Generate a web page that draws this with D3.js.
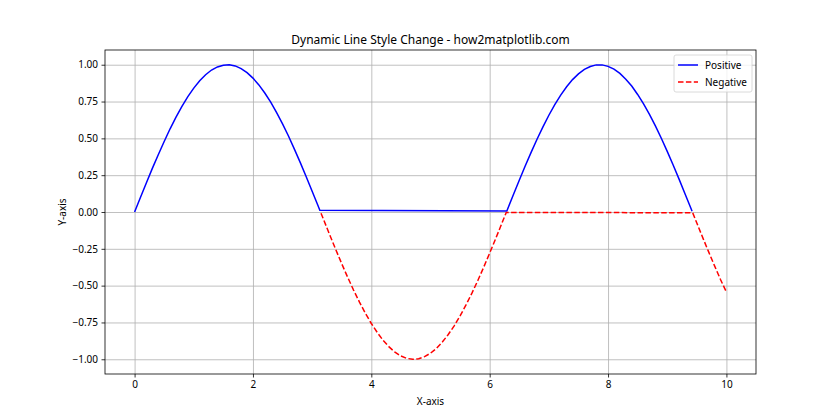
<!DOCTYPE html>
<html>
<head>
<meta charset="utf-8">
<script src="https://cdn.jsdelivr.net/npm/d3@7"></script>
<style>
  body { margin: 0; background: #fff; }
  svg text { font-family: "Noto Sans", "Liberation Sans", sans-serif; fill: #000; }
  .grid line { stroke: #b0b0b0; stroke-width: 0.8; }
  .tick text { font-size: 10px; }
</style>
</head>
<body>
<svg id="chart" width="840" height="420"></svg>
<script>
// values
var posX = [0.0, 0.1, 0.2, 0.3, 0.4, 0.5, 0.6, 0.7, 0.8, 0.9, 1.0, 1.1, 1.2, 1.3, 1.4, 1.5, 1.6, 1.7, 1.8, 1.9,
            2.0, 2.1, 2.2, 2.3, 2.4, 2.5, 2.6, 2.7, 2.8, 2.9, 3.0, 3.1, 3.13,
            6.29, 6.3, 6.4, 6.5, 6.6, 6.7, 6.8, 6.9, 7.0, 7.1, 7.2, 7.3, 7.4, 7.5, 7.6, 7.7, 7.8, 7.9,
            8.0, 8.1, 8.2, 8.3, 8.4, 8.5, 8.6, 8.7, 8.8, 8.9, 9.0, 9.1, 9.2, 9.3, 9.4, 9.42];
var posY = [0.000, 0.100, 0.199, 0.296, 0.389, 0.479, 0.565, 0.644, 0.717, 0.783, 0.841, 0.891, 0.932, 0.964, 0.985, 0.997, 1.000, 0.992, 0.974, 0.946,
            0.909, 0.863, 0.808, 0.746, 0.675, 0.598, 0.516, 0.427, 0.335, 0.239, 0.141, 0.042, 0.012,
            0.007, 0.017, 0.117, 0.215, 0.312, 0.405, 0.494, 0.578, 0.657, 0.729, 0.794, 0.850, 0.899, 0.938, 0.968, 0.988, 0.999, 0.999,
            0.989, 0.970, 0.941, 0.902, 0.855, 0.798, 0.734, 0.663, 0.585, 0.501, 0.412, 0.319, 0.223, 0.124, 0.025, 0.005];
var negX = [3.15, 3.2, 3.3, 3.4, 3.5, 3.6, 3.7, 3.8, 3.9, 4.0, 4.1, 4.2, 4.3, 4.4, 4.5, 4.6, 4.7, 4.8, 4.9,
            5.0, 5.1, 5.2, 5.3, 5.4, 5.5, 5.6, 5.7, 5.8, 5.9, 6.0, 6.1, 6.2, 6.28,
            9.43, 9.5, 9.6, 9.7, 9.8, 9.9, 10.0];
var negY = [-0.008, -0.058, -0.158, -0.256, -0.351, -0.443, -0.530, -0.612, -0.688, -0.757, -0.818, -0.872, -0.916, -0.952, -0.978, -0.994, -1.000, -0.996, -0.982,
            -0.959, -0.926, -0.883, -0.832, -0.773, -0.706, -0.631, -0.551, -0.465, -0.374, -0.279, -0.182, -0.083, -0.003,
            -0.005, -0.075, -0.174, -0.271, -0.366, -0.458, -0.544];
var xTicks = [0, 2, 4, 6, 8, 10];
var yTicks = [-1.00, -0.75, -0.50, -0.25, 0.00, 0.25, 0.50, 0.75, 1.00];
var seriesNames = ["Positive", "Negative"];
var seriesColors = ["blue", "red"];

const svg = d3.select("#chart");
var margin = {top: 50, right: 84, bottom: 46, left: 105};
var width = 840 - margin.left - margin.right;
var height = 420 - margin.top - margin.bottom;

var x = d3.scaleLinear().domain([-0.5, 10.5]).range([0, width]);
var y = d3.scaleLinear().domain([-1.1, 1.1]).range([height, 0]);

var g = svg.append("g").attr("transform", `translate(${margin.left},${margin.top})`);

// grid
var xGrid = g.append("g").attr("class", "grid")
    .attr("transform", `translate(0,${height})`)
    .call(d3.axisBottom(x).tickValues(xTicks).tickSize(-height).tickFormat(""));
xGrid.select(".domain").remove();
var yGrid = g.append("g").attr("class", "grid")
    .call(d3.axisLeft(y).tickValues(yTicks).tickSize(-width).tickFormat(""));
yGrid.select(".domain").remove();

// lines
var line = d3.line().x(d => x(d[0])).y(d => y(d[1]));
var posData = posX.map((v, i) => [v, posY[i]]);
var negData = negX.map((v, i) => [v, negY[i]]);

g.append("path").datum(posData)
    .attr("d", line)
    .attr("fill", "none")
    .attr("stroke", seriesColors[0])
    .attr("stroke-width", 1.5);
g.append("path").datum(negData)
    .attr("d", line)
    .attr("fill", "none")
    .attr("stroke", seriesColors[1])
    .attr("stroke-width", 1.5)
    .attr("stroke-dasharray", "5.5,2.4");

// axes
var xAxisG = g.append("g")
    .attr("transform", `translate(0,${height})`)
    .call(d3.axisBottom(x).tickValues(xTicks).tickSize(3.5).tickPadding(3.5).tickFormat(d3.format("d")));
var yAxisG = g.append("g")
    .call(d3.axisLeft(y).tickValues(yTicks).tickSize(3.5).tickPadding(3.5).tickFormat(d3.format(".2f")));
[xAxisG, yAxisG].forEach(a => {
  a.select(".domain").remove();
  a.selectAll(".tick line").attr("stroke", "#000").attr("stroke-width", 0.8);
});

// frame
g.append("rect")
    .attr("width", width).attr("height", height)
    .attr("fill", "none").attr("stroke", "#000").attr("stroke-width", 0.8);

// labels
svg.append("text")
    .attr("x", margin.left + width / 2).attr("y", 44)
    .attr("text-anchor", "middle").style("font-size", "12px")
    .text("Dynamic Line Style Change - how2matplotlib.com");
svg.append("text")
    .attr("x", margin.left + width / 2).attr("y", 405)
    .attr("text-anchor", "middle").style("font-size", "10px")
    .text("X-axis");
svg.append("text")
    .attr("transform", `translate(66,${margin.top + height / 2}) rotate(-90)`)
    .attr("text-anchor", "middle").style("font-size", "10px")
    .text("Y-axis");

// legend
var leg = g.append("g").attr("transform", `translate(${width - 82},5)`);
leg.append("rect")
    .attr("width", 78).attr("height", 37).attr("rx", 2)
    .attr("fill", "#fff").attr("fill-opacity", 0.8)
    .attr("stroke", "#d0d0d0").attr("stroke-width", 0.8);
seriesNames.forEach((name, i) => {
  var row = leg.append("g").attr("transform", `translate(4,${10 + i * 17})`);
  row.append("line")
      .attr("x1", 0).attr("x2", 20)
      .attr("stroke", seriesColors[i]).attr("stroke-width", 1.5)
      .attr("stroke-dasharray", i === 1 ? "5.5,2.4" : null);
  row.append("text")
      .attr("x", 27).attr("y", 3.5)
      .style("font-size", "10px")
      .text(name);
});
</script>
</body>
</html>
